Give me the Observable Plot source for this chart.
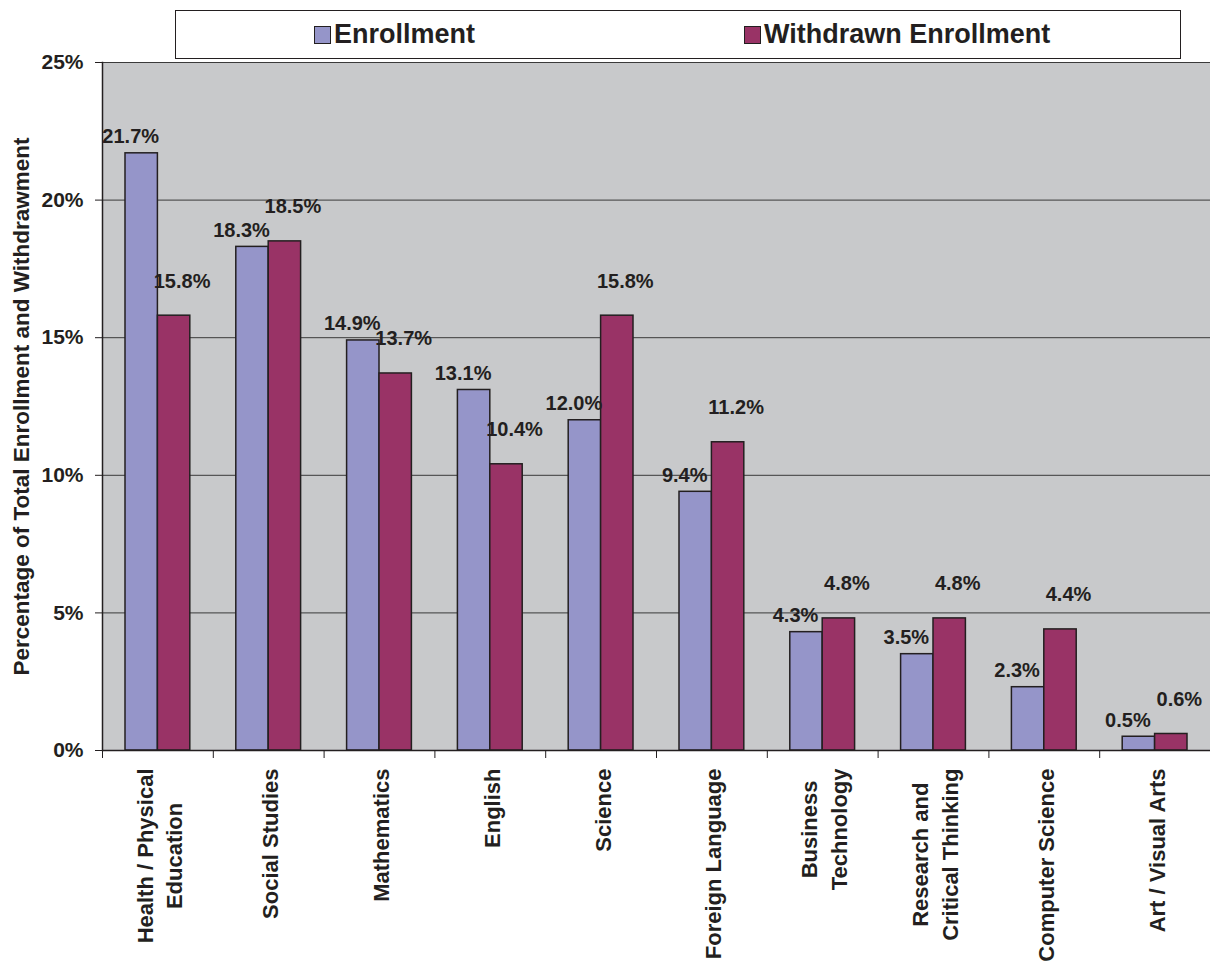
<!DOCTYPE html>
<html>
<head>
<meta charset="utf-8">
<script src="https://cdn.jsdelivr.net/npm/d3@7"></script>
<script src="https://cdn.jsdelivr.net/npm/@observablehq/plot@0.6"></script>
<style>
  html, body { margin: 0; padding: 0; background: #fff; }
  #wrap { position: relative; width: 1210px; height: 964px; font-family: "Liberation Sans", Arial, sans-serif; color: #231F20; }
  #legend { position: absolute; left: 175px; top: 10px; width: 1004px; height: 47px; border: 1px solid #231F20; background: #fff; }
  .item { position: absolute; top: 0; height: 47px; display: flex; align-items: center; font-weight: bold; font-size: 27px; }
  .sw { width: 15px; height: 16px; border: 1.5px solid #231F20; margin-right: 3px; }
  #chart { position: absolute; left: 0; top: 59px; }
</style>
</head>
<body>
<div id="wrap">
  <div id="legend"></div>
  <div id="chart"></div>
</div>
<script>
const categories = ["Health / Physical\nEducation", "Social Studies", "Mathematics", "English", "Science", "Foreign Language", "Business\nTechnology", "Research and\nCritical Thinking", "Computer Science", "Art / Visual Arts"];
const enrollment = [21.7, 18.3, 14.9, 13.1, 12.0, 9.4, 4.3, 3.5, 2.3, 0.5];
const withdrawn = [15.8, 18.5, 13.7, 10.4, 15.8, 11.2, 4.8, 4.8, 4.4, 0.6];
const seriesNames = ["Enrollment", "Withdrawn Enrollment"];
const seriesColors = ["#9595C9", "#993366"];
const yTicks = [0, 5, 10, 15, 20, 25];

const rowsE = categories.map((c, i) => ({cat: c, value: enrollment[i]}));
const rowsW = categories.map((c, i) => ({cat: c, value: withdrawn[i]}));

// legend
const legend = document.getElementById("legend");
const lefts = [138, 568];
seriesNames.forEach((n, i) => {
  const it = document.createElement("div");
  it.className = "item";
  it.style.left = lefts[i] + "px";
  it.innerHTML = `<div class="sw" style="background:${seriesColors[i]}"></div><span>${n}</span>`;
  legend.appendChild(it);
});

const W = 1210, H = 905, mL = 102, mR = 0, mT = 3, mB = 214;
const step = (W - mL - mR) / categories.length;
const half = step / 2;
const outer = 23;
const barW = half - outer;
const fmt = d => d.toFixed(1) + "%";

const plot = Plot.plot({
  width: W, height: H,
  marginLeft: mL, marginRight: mR, marginTop: mT, marginBottom: mB,
  style: {fontFamily: "Liberation Sans, Arial, sans-serif", color: "#231F20", background: "transparent", overflow: "visible"},
  x: {type: "band", domain: categories, padding: 0, round: false},
  y: {domain: [0, 25]},
  marks: [
    Plot.frame({fill: "#C8C9CB", stroke: null}),
    Plot.gridY(yTicks.slice(1), {stroke: "#3a3a3a", strokeOpacity: 1, strokeWidth: 1}),
    Plot.barY(rowsE, {x: "cat", y: "value", fill: seriesColors[0], stroke: "#231F20", strokeWidth: 1.5, insetLeft: outer, insetRight: half}),
    Plot.barY(rowsW, {x: "cat", y: "value", fill: seriesColors[1], stroke: "#231F20", strokeWidth: 1.5, insetLeft: half, insetRight: outer}),
    Plot.text(rowsE, {x: "cat", y: "value", text: d => fmt(d.value), dx: -barW / 2 - 11, dy: -10, lineAnchor: "bottom", fontSize: 20, fontWeight: "bold", fill: "#231F20"}),
    Plot.text(rowsW, {x: "cat", y: "value", text: d => fmt(d.value), dx: barW / 2 + 8, dy: -28, lineAnchor: "bottom", fontSize: 20, fontWeight: "bold", fill: "#231F20"}),
    Plot.frame({anchor: "left", stroke: "#231F20", strokeWidth: 1.5}),
    Plot.ruleY([0], {stroke: "#231F20", strokeWidth: 1.5}),
    Plot.axisY({ticks: yTicks, tickFormat: d => d + "%", tickSize: 7, tickPadding: 12, fontSize: 21, fontWeight: "bold",
      label: "Percentage of Total Enrollment and Withdrawment", labelAnchor: "center", labelOffset: 89, labelArrow: "none"}),
    Plot.axisX({tickSize: 8, dx: -half, text: null, label: null}),
    Plot.axisX({tickSize: 0, tickRotate: -90, tickPadding: 18, fontSize: 22, fontWeight: "bold", lineHeight: 1.35, label: null})
  ]
});
document.getElementById("chart").appendChild(plot);

// center-align lines within multi-line rotated tick labels (as in the reference)
plot.querySelectorAll('g[aria-label="x-axis tick label"] text').forEach(t => {
  const spans = t.querySelectorAll("tspan");
  if (spans.length < 2) return;
  let maxLen = 0;
  spans.forEach(s => { maxLen = Math.max(maxLen, s.getComputedTextLength()); });
  t.setAttribute("text-anchor", "middle");
  spans.forEach(s => s.setAttribute("x", -maxLen / 2));
});
// y-axis label font
plot.querySelectorAll('g[aria-label="y-axis label"] text').forEach(t => {
  t.setAttribute("font-size", 22.5);
  t.setAttribute("font-weight", "bold");
});
</script>
</body>
</html>
